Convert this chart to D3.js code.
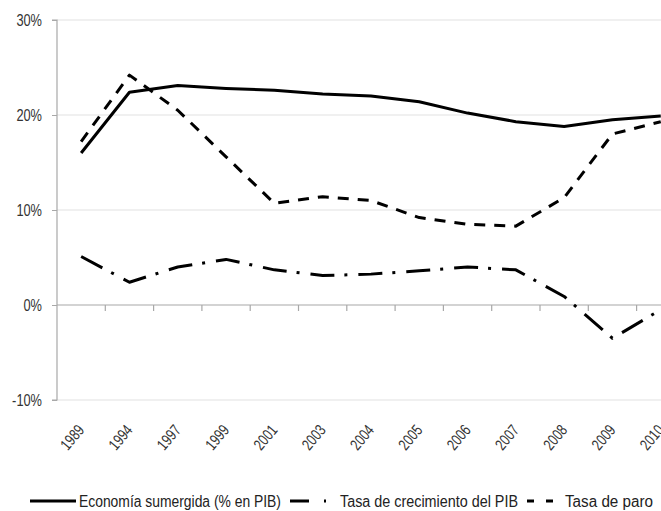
<!DOCTYPE html>
<html><head><meta charset="utf-8">
<script src="https://cdn.jsdelivr.net/npm/d3@7"></script>
<style>
body{margin:0;background:#fff}
svg{display:block}
text{font-family:"Liberation Sans",Arial,sans-serif}
</style>
</head><body>
<svg id="c" width="661" height="511"></svg>
<script>
const years = ["1989","1994","1997","1999","2001","2003","2004","2005","2006","2007","2008","2009","2010"];
const economiaSumergida = [16.0,22.4,23.1,22.8,22.6,22.2,22.0,21.4,20.2,19.3,18.8,19.5,19.9];
const tasaCrecimientoPIB = [5.1,2.4,4.0,4.8,3.7,3.1,3.25,3.6,4.0,3.7,0.9,-3.5,-0.5];
const tasaParo = [17.2,24.2,20.5,15.6,10.7,11.4,11.0,9.2,8.5,8.3,11.3,18.0,19.3];
const yTicks = [-10,0,10,20,30];
const seriesNames = ["Economía sumergida (% en PIB)","Tasa de crecimiento del PIB","Tasa de paro"];

const svg = d3.select("#c");
const mLeft = 57, mTop = 20, mBottom = 400, band = 48.3;
const x = d3.scaleBand().domain(years).range([mLeft, mLeft + band*years.length]).padding(0);
const y = d3.scaleLinear().domain([-10,30]).range([mBottom, mTop]);
const cx = d => x(d) + x.bandwidth()/2;
const narrow = (sel, f) => sel.each(function(){ const w = this.getComputedTextLength(); d3.select(this).attr("textLength", w*f).attr("lengthAdjust","spacingAndGlyphs"); });

// gridlines
svg.append("g").selectAll("line").data(yTicks.filter(t=>t!==0)).join("line")
  .attr("x1", mLeft).attr("x2", 700).attr("y1", d=>y(d)).attr("y2", d=>y(d))
  .attr("stroke","#e2e2e2").attr("stroke-width",1.2);

// y axis
const yAxis = svg.append("g").attr("transform",`translate(${mLeft},0)`)
  .call(d3.axisLeft(y).tickValues(yTicks).tickFormat(d=>d+"%").tickSize(5).tickPadding(10));
yAxis.select(".domain").attr("stroke","#a8a8a8").attr("stroke-width",1.2).attr("d",`M-5,${mTop}H0V${mBottom}H-5`);
yAxis.selectAll(".tick line").attr("stroke","#a8a8a8");
yAxis.selectAll("text").attr("font-size",16).attr("fill","#333").attr("font-family",null).attr("x",-15);
narrow(yAxis.selectAll("text"), 0.8);

// zero line with ticks
svg.append("line").attr("x1",mLeft).attr("x2",700).attr("y1",y(0)).attr("y2",y(0))
  .attr("stroke","#a8a8a8").attr("stroke-width",1.2);
svg.append("g").selectAll("line").data(years.slice(1)).join("line")
  .attr("x1",d=>x(d)).attr("x2",d=>x(d)).attr("y1",y(0)).attr("y2",y(0)+6)
  .attr("stroke","#a8a8a8").attr("stroke-width",1.2);

// x labels
const xl = svg.append("g").selectAll("text").data(years).join("text")
  .attr("transform", d=>`translate(${cx(d)+4},430.5) rotate(-50)`)
  .attr("text-anchor","end").attr("font-size",16).attr("fill","#333").text(d=>d);
narrow(xl, 0.76);

// lines
const line = d3.line().x((d,i)=>cx(years[i])).y(d=>y(d)).curve(d3.curveLinear);
const series = [
  {vals: economiaSumergida, dash: null},
  {vals: tasaCrecimientoPIB, dash: "24,10,3,11"},
  {vals: tasaParo, dash: "11,9"}
];
svg.append("g").selectAll("path").data(series).join("path")
  .attr("d", d=>line(d.vals)).attr("fill","none").attr("stroke","#000")
  .attr("stroke-width",3).attr("stroke-linejoin","round").attr("stroke-dasharray", d=>d.dash);

// legend
const lg = svg.append("g");
const ly = 501, ty = 506.5;
lg.append("line").attr("x1",30).attr("x2",76).attr("y1",ly).attr("y2",ly).attr("stroke","#000").attr("stroke-width",3);
lg.append("text").attr("x",79).attr("y",ty).attr("font-size",16).attr("fill","#222").text(seriesNames[0])
  .attr("textLength",202).attr("lengthAdjust","spacingAndGlyphs");
lg.append("line").attr("x1",290).attr("x2",327).attr("y1",ly).attr("y2",ly).attr("stroke","#000").attr("stroke-width",3).attr("stroke-dasharray","19,15,2,20");
lg.append("text").attr("x",340).attr("y",ty).attr("font-size",16).attr("fill","#222").text(seriesNames[1])
  .attr("textLength",178).attr("lengthAdjust","spacingAndGlyphs");
lg.append("line").attr("x1",527).attr("x2",553).attr("y1",ly).attr("y2",ly).attr("stroke","#000").attr("stroke-width",3).attr("stroke-dasharray","7,12");
lg.append("text").attr("x",565).attr("y",ty).attr("font-size",16).attr("fill","#222").text(seriesNames[2])
  .attr("textLength",88).attr("lengthAdjust","spacingAndGlyphs");
</script>
</body></html>
